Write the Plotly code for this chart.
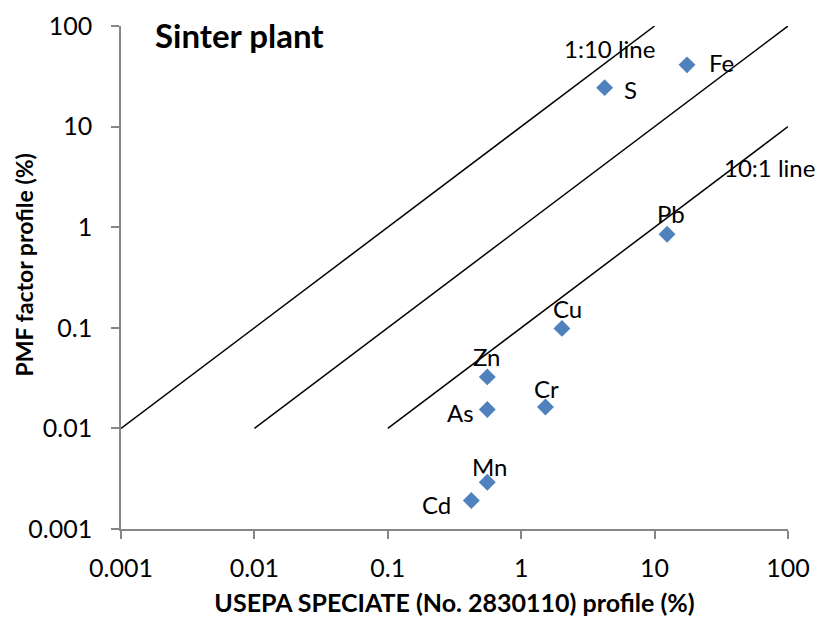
import plotly.graph_objects as go
import math

elements = ["Fe", "S", "Pb", "Cu", "Zn", "As", "Cr", "Mn", "Cd"]
speciate = [17.5, 4.22, 12.4, 2.02, 0.557, 0.557, 1.52, 0.557, 0.423]
pmf = [41.1, 24.4, 0.85, 0.0986, 0.0325, 0.0154, 0.0163, 0.00292, 0.00192]
# label offsets in pixels (style only)
label_dx = [34, 26, 4, 6, 0, -27, 1, 3, -35]
label_dy = [2, -2, 21, 20, 20, -3, 19, 16, -4]

line_1_10_x = [0.001, 10]
line_1_10_y = [0.01, 100]
line_1_1_x = [0.01, 100]
line_1_1_y = [0.01, 100]
line_10_1_x = [0.1, 100]
line_10_1_y = [0.01, 10]

tick_vals = [0.001, 0.01, 0.1, 1, 10, 100]
tick_text = ["0.001", "0.01", "0.1", "1", "10", "100"]

FONT = "Lato"
fig = go.Figure()
for lx, ly in [(line_1_10_x, line_1_10_y), (line_1_1_x, line_1_1_y), (line_10_1_x, line_10_1_y)]:
    fig.add_trace(go.Scatter(x=lx, y=ly, mode="lines", line=dict(color="black", width=1.5),
                             showlegend=False, hoverinfo="skip"))

fig.add_trace(go.Scatter(
    x=speciate, y=pmf, mode="markers",
    marker=dict(symbol="diamond", size=13, color="#4F81BD"),
    showlegend=False, cliponaxis=False))

for el, xv, yv, dx, dy in zip(elements, speciate, pmf, label_dx, label_dy):
    fig.add_annotation(x=math.log10(xv), y=math.log10(yv), xref="x", yref="y", text=el,
                       showarrow=False, xshift=dx, yshift=dy,
                       font=dict(family=FONT, size=24, color="black"))

axis_common = dict(type="log", range=[-3, 2], tickvals=tick_vals, ticktext=tick_text,
                   showgrid=False, zeroline=False, showline=True, linecolor="#868686",
                   linewidth=1.5, ticks="outside", ticklen=8, tickcolor="#868686",
                   tickwidth=1.5, tickfont=dict(family=FONT, size=25, color="black"),
                   automargin=False)

fig.update_xaxes(**axis_common, ticklabelstandoff=8,
                 title=dict(text="<b>USEPA SPECIATE (No. 2830110) profile (%)</b>",
                            font=dict(family=FONT, size=25, color="black"), standoff=14))
fig.update_yaxes(**axis_common, ticklabelstandoff=14)

fig.add_annotation(x=(24 - 120.7) / 667.6, y=1 - (265 - 26) / 502.7, xref="paper", yref="paper",
                   xanchor="center", yanchor="middle", textangle=-90,
                   text="<b>PMF factor profile (%)</b>", showarrow=False,
                   font=dict(family=FONT, size=23, color="black"))

ann_font = dict(family=FONT, size=24, color="black")
fig.add_annotation(x=0.665, y=1.773, xref="x", yref="y", text="1:10 line", showarrow=False, font=ann_font)
fig.add_annotation(x=1.886, y=2.032, xref="x", yref="y", text="1:1 line", showarrow=False, font=ann_font)
fig.add_annotation(x=1.864, y=0.589, xref="x", yref="y", text="10:1 line", showarrow=False, font=ann_font)
fig.add_annotation(x=(153 - 120.7) / 667.6, xanchor="left", y=1 - (35 - 26) / 502.7, yanchor="middle",
                   xref="paper", yref="paper", text="<b>Sinter plant</b>", showarrow=False,
                   font=dict(family=FONT, size=33, color="black"))

fig.update_layout(width=818, height=617, margin=dict(l=121, r=30, t=26, b=88, autoexpand=False),
                  plot_bgcolor="white", paper_bgcolor="white")
fig.write_html("out.html")
